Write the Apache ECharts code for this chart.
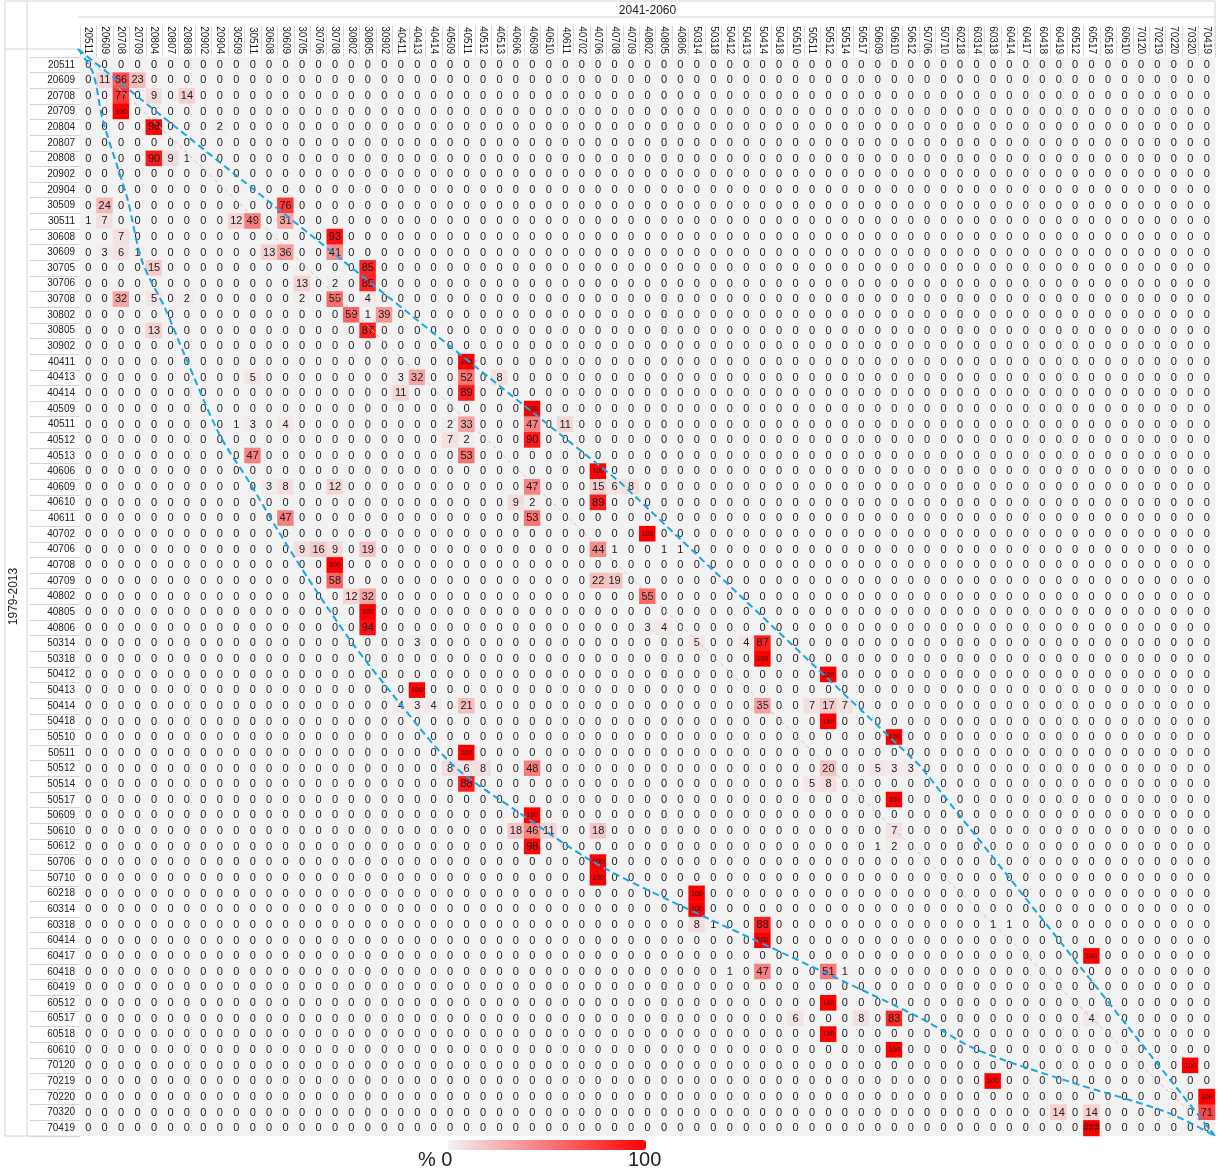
<!DOCTYPE html>
<html>
<head>
<meta charset="utf-8">
<script src="https://cdn.jsdelivr.net/npm/echarts@6/dist/echarts.min.js"></script>
<style>
html,body{margin:0;padding:0;background:#ffffff;}
#chart{width:1218px;height:1173px;}
</style>
</head>
<body>
<div id="chart"></div>
<script>
// Weather-type codes (same list on both axes)
const codes = ['20511','20609','20708','20709','20804','20807','20808','20902','20904',
  '30509','30511','30608','30609','30705','30706','30708','30802','30805','30902',
  '40411','40413','40414','40509','40511','40512','40513','40606','40609','40610','40611',
  '40702','40706','40708','40709','40802','40805','40806',
  '50314','50318','50412','50413','50414','50418','50510','50511','50512','50514','50517',
  '50609','50610','50612','50706','50710',
  '60218','60314','60318','60414','60417','60418','60419','60512','60517','60518','60610',
  '70120','70219','70220','70320','70419'];
const rowTitle = '1979-2013';
const colTitle = '2041-2060';

// Non-zero cells: [row code (1979-2013), column code (2041-2060), percent]; every other cell is 0
const nonZeroCells = [
  ['20609','20609',11],['20609','20708',66],['20609','20709',23],
  ['20708','20708',77],['20708','20804',9],['20708','20808',14],
  ['20709','20708',100],
  ['20804','20804',98],['20804','20904',2],
  ['20808','20804',90],['20808','20807',9],['20808','20808',1],
  ['30509','20609',24],['30509','30609',76],
  ['30511','20511',1],['30511','20609',7],['30511','30509',12],['30511','30511',49],['30511','30609',31],
  ['30608','20708',7],['30608','30708',93],
  ['30609','20609',3],['30609','20708',6],['30609','20709',1],['30609','30608',13],['30609','30609',36],['30609','30708',41],
  ['30705','20804',15],['30705','30805',85],
  ['30706','30705',13],['30706','30708',2],['30706','30805',85],
  ['30708','20708',32],['30708','20804',5],['30708','20808',2],['30708','30705',2],['30708','30708',55],['30708','30805',4],
  ['30802','30802',59],['30802','30805',1],['30802','30902',39],
  ['30805','20804',13],['30805','30805',87],
  ['40411','40511',100],
  ['40413','30511',5],['40413','40411',3],['40413','40413',32],['40413','40511',52],['40413','40513',8],
  ['40414','40411',11],['40414','40511',89],
  ['40509','40609',100],
  ['40511','30509',1],['40511','30511',3],['40511','30609',4],['40511','40509',2],['40511','40511',33],['40511','40609',47],['40511','40611',11],
  ['40512','40509',7],['40512','40511',2],['40512','40609',90],
  ['40513','30511',47],['40513','40511',53],
  ['40606','40706',100],
  ['40609','30608',3],['40609','30609',8],['40609','30708',12],['40609','40609',47],['40609','40706',15],['40609','40708',6],['40609','40709',8],
  ['40610','40606',9],['40610','40609',2],['40610','40706',89],
  ['40611','30609',47],['40611','40609',53],
  ['40702','40802',100],
  ['40706','30705',9],['40706','30706',16],['40706','30708',9],['40706','30805',19],['40706','40706',44],['40706','40708',1],['40706','40805',1],['40706','40806',1],
  ['40708','30708',100],
  ['40709','30708',58],['40709','40706',22],['40709','40708',19],
  ['40802','30802',12],['40802','30805',32],['40802','40802',55],
  ['40805','30805',100],
  ['40806','30805',94],['40806','40802',3],['40806','40805',4],
  ['50314','40413',3],['50314','50314',5],['50314','50413',4],['50314','50414',87],
  ['50318','50414',100],
  ['50412','50512',100],
  ['50413','40413',100],
  ['50414','40411',4],['50414','40413',3],['50414','40414',4],['50414','40511',21],['50414','50414',35],['50414','50511',7],['50414','50512',17],['50414','50514',7],
  ['50418','50512',100],
  ['50510','50610',100],
  ['50511','40511',100],
  ['50512','40509',8],['50512','40511',6],['50512','40512',8],['50512','40609',48],['50512','50512',20],['50512','50609',5],['50512','50610',3],['50512','50612',3],
  ['50514','40511',88],['50514','50511',5],['50514','50512',8],
  ['50517','50610',100],
  ['50609','40609',100],
  ['50610','40606',18],['50610','40609',46],['50610','40610',11],['50610','40706',18],['50610','50610',7],
  ['50612','40609',98],['50612','50609',1],['50612','50610',2],
  ['50706','40706',100],
  ['50710','40706',100],
  ['60218','50314',100],
  ['60314','50314',100],
  ['60318','50314',8],['60318','50318',1],['60318','50414',88],['60318','60318',1],['60318','60414',1],
  ['60414','50414',100],
  ['60417','60517',100],
  ['60418','50412',1],['60418','50414',47],['60418','50512',51],['60418','50514',1],
  ['60512','50512',100],
  ['60517','50510',6],['60517','50517',8],['60517','50610',83],['60517','60517',4],
  ['60518','50512',100],
  ['60610','50610',100],
  ['70120','70320',100],
  ['70219','60318',100],
  ['70220','70419',100],
  ['70320','60419',14],['70320','60517',14],['70320','70419',71],
  ['70419','60517',100]
];
// Cells whose printed text differs from the value (overflowed cell in the source)
const labelOverrides = [['70419','60517','###']];

// Guide lines, in cell units [column index, row index]
const upperGuide = [[-0.5,-0.5],[32.4,27.0],[50.6,45.0],[68.5,68.5]];
const lowerGuide = [[-0.5,-0.5],[0.4,1],[1.0,4],[1.9,7],[2.5,9],[3.4,13],[4.8,16],[6.0,19],[8.1,24],
  [9.9,27],[11.6,30],[13.4,33],[16.0,37],[19.0,41],[22.3,45],[26.3,48],[30.6,51],[34.3,53],
  [42.5,57],[50.6,61],[54.0,63],[59.5,65],[65.6,67],[68.5,68.5]];
const diagonalGuide = [[-0.5,-0.5],[68.5,68.5]];

// ---- build heatmap data ----
const valMap = {};
nonZeroCells.forEach(([r,c,v])=>{valMap[r+'|'+c]=v;});
const ovMap = {};
labelOverrides.forEach(([r,c,t])=>{ovMap[r+'|'+c]=t;});
const heatData = [];
codes.forEach((r,ri)=>{
  codes.forEach((c,ci)=>{
    const v = valMap[r+'|'+c] || 0;
    heatData.push([ci, ri, v]);
  });
});

const FONT = '"Liberation Sans", Arial, sans-serif';
const chart = echarts.init(document.getElementById('chart'), null, {renderer:'canvas'});
const gridPos = {left:78, top:49, width:1137, height:1087};

const option = {
  animation:false,
  backgroundColor:'#ffffff',
  textStyle:{fontFamily:FONT},
  grid:[
    Object.assign({}, gridPos, {containLabel:false}),
    Object.assign({}, gridPos, {containLabel:false})
  ],
  xAxis:[
    {
      type:'category', data:codes, position:'top', gridIndex:0,
      axisLine:{show:true, lineStyle:{color:'#d4d4d4', width:1}},
      axisTick:{show:true, interval:0, length:31, lineStyle:{color:'#dadada'}},
      axisLabel:{interval:0, rotate:90, fontSize:10, color:'#222', margin:3, fontFamily:FONT},
      splitLine:{show:false},
      name:colTitle, nameLocation:'middle', nameGap:40,
      nameTextStyle:{fontSize:12, color:'#222', fontFamily:FONT}
    },
    {type:'value', gridIndex:1, min:-0.5, max:68.5, show:false}
  ],
  yAxis:[
    {
      type:'category', data:codes, inverse:true, gridIndex:0,
      axisLine:{show:true, lineStyle:{color:'#d4d4d4', width:1}},
      axisTick:{show:true, interval:0, length:50, lineStyle:{color:'#d4d4d4'}},
      axisLabel:{interval:0, fontSize:10, color:'#222', margin:5, fontFamily:FONT},
      splitLine:{show:false},
      name:rowTitle, nameLocation:'middle', nameGap:60, nameRotate:90,
      nameTextStyle:{fontSize:12, color:'#222', fontFamily:FONT}
    },
    {type:'value', gridIndex:1, min:-0.5, max:68.5, inverse:true, show:false}
  ],
  visualMap:{
    type:'continuous', min:0, max:100, seriesIndex:0, calculable:false,
    orient:'horizontal', left:433, top:1125, itemWidth:10, itemHeight:198,
    text:null, showLabel:false, hoverLink:false,
    inRange:{color:['#f2f2f2','#ff0000']}
  },
  graphic:[
    {type:'line', silent:true, shape:{x1:5,y1:1,x2:1215,y2:1}, style:{stroke:'#d4d4d4', lineWidth:1}},
    {type:'line', silent:true, shape:{x1:78,y1:17,x2:1215,y2:17}, style:{stroke:'#d4d4d4', lineWidth:1}},
    {type:'line', silent:true, shape:{x1:1215,y1:1,x2:1215,y2:49}, style:{stroke:'#d4d4d4', lineWidth:1}},
    {type:'line', silent:true, shape:{x1:5,y1:1,x2:5,y2:1136}, style:{stroke:'#d4d4d4', lineWidth:1}},
    {type:'line', silent:true, shape:{x1:27,y1:1,x2:27,y2:1136}, style:{stroke:'#d4d4d4', lineWidth:1}},
    {type:'line', silent:true, shape:{x1:5,y1:49,x2:78,y2:49}, style:{stroke:'#d4d4d4', lineWidth:1}},
    {type:'line', silent:true, shape:{x1:5,y1:1136,x2:78,y2:1136}, style:{stroke:'#d4d4d4', lineWidth:1}},
    {type:'text', silent:true, left:418, top:1150, style:{text:'% 0', fontSize:20, fill:'#222', font:'20px '+FONT}},
    {type:'text', silent:true, left:628, top:1150, style:{text:'100', fontSize:20, fill:'#222', font:'20px '+FONT}}
  ],
  series:[
    {
      type:'heatmap', xAxisIndex:0, yAxisIndex:0, data:heatData,
      itemStyle:{borderWidth:0},
      label:{
        show:true,
        formatter:function(p){
          const key = codes[p.value[1]]+'|'+codes[p.value[0]];
          if (ovMap[key]) return '{o|'+ovMap[key]+'}';
          if (p.value[2] >= 100) return '{s|'+p.value[2]+'}';
          return '{n|'+p.value[2]+'}';
        },
        rich:{
          n:{fontSize:11, color:'#1a1a1a', fontFamily:FONT},
          s:{fontSize:7, color:'#1a1a1a', fontFamily:FONT},
          o:{fontSize:10, color:'#1a1a1a', fontFamily:FONT}
        }
      },
      emphasis:{disabled:true}
    },
    {
      type:'line', xAxisIndex:1, yAxisIndex:1, data:diagonalGuide, symbol:'none', silent:true,
      lineStyle:{color:'#c4c4c4', width:1, type:[4,3]}, z:5
    },
    {
      type:'line', xAxisIndex:1, yAxisIndex:1, data:upperGuide, symbol:'none', silent:true,
      lineStyle:{color:'#1aa7e6', width:2, type:[7,4]}, z:6
    },
    {
      type:'line', xAxisIndex:1, yAxisIndex:1, data:lowerGuide, symbol:'none', silent:true, smooth:0.3,
      lineStyle:{color:'#1aa7e6', width:2, type:[7,4]}, z:6
    }
  ]
};
chart.setOption(option);
</script>
</body>
</html>
